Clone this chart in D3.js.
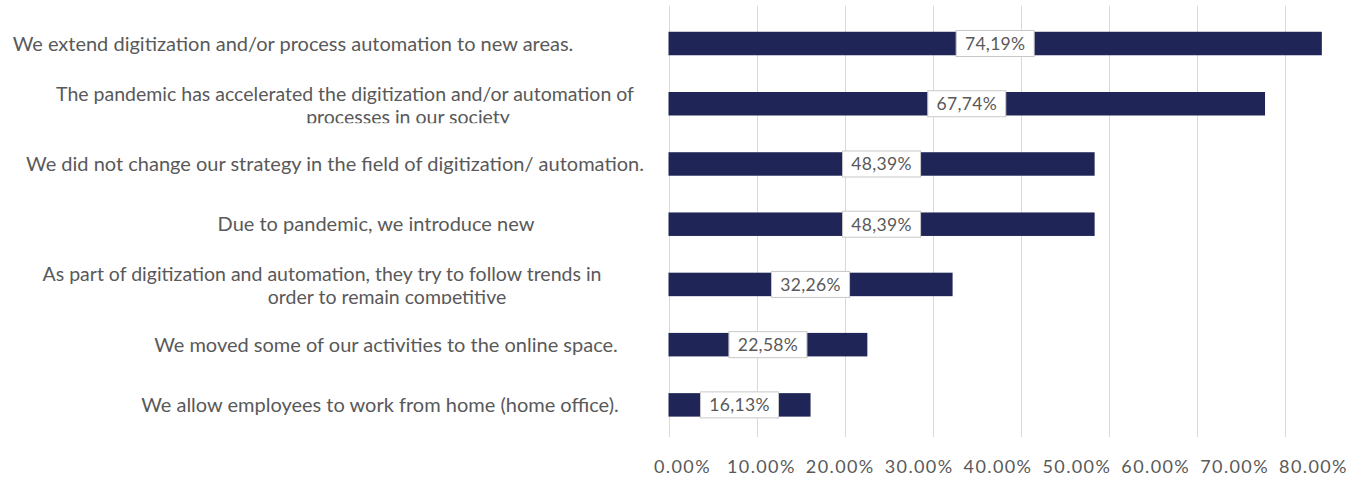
<!DOCTYPE html>
<html>
<head>
<meta charset="utf-8">
<script src="https://cdn.jsdelivr.net/npm/d3@7"></script>
<style>
  html, body { margin: 0; padding: 0; background: #fff; }
  svg { display: block; }
  text { font-family: Lato, "Open Sans", sans-serif; fill: #595959; }
</style>
</head>
<body>
<svg id="chart" width="1361" height="477"></svg>
<script>
// Survey answers, top to bottom
const categories = [
  "We extend digitization and/or process automation to new areas.",
  "The pandemic has accelerated the digitization and/or automation of processes in our society",
  "We did not change our strategy in the field of digitization/ automation.",
  "Due to pandemic, we introduce new",
  "As part of digitization and automation, they try to follow trends in order to remain competitive",
  "We moved some of our activities to the online space.",
  "We allow employees to work from home (home office)."
];
// Wrapped label lines for each answer
const labelLines = [
  ["We extend digitization and/or process automation to new areas."],
  ["The pandemic has accelerated the digitization and/or automation of", "processes in our society"],
  ["We did not change our strategy in the field of digitization/ automation."],
  ["Due to pandemic, we introduce new"],
  ["As part of digitization and automation, they try to follow trends in", "order to remain competitive"],
  ["We moved some of our activities to the online space."],
  ["We allow employees to work from home (home office)."]
];
// Share of respondents (%)
const values = [74.19, 67.74, 48.39, 48.39, 32.26, 22.58, 16.13];
// Axis tick values (%)
const tickValues = [0, 10, 20, 30, 40, 50, 60, 70, 80];

// Horizontal centre of each label line
const labelCenters = [[293], [345, 408], [335], [376], [322, 387], [386], [380]];

const svg = d3.select("#chart");

const x = d3.scaleLinear().domain([0, 80]).range([668.5, 1373]);
// Tick text sits on its own, narrower spacing
const xTickText = d3.scaleLinear().domain([0, 80]).range([682, 1313]);
const y = d3.scaleBand().domain(d3.range(categories.length)).range([13.4, 435]).paddingInner(0.61).paddingOuter(0.305);

const barColor = "#1f2657";
const gridColor = "#d9d9d9";

// Vertical gridlines
svg.append("g")
  .selectAll("line")
  .data(tickValues)
  .join("line")
  .attr("x1", d => Math.round(x(d)) + 0.5)
  .attr("x2", d => Math.round(x(d)) + 0.5)
  .attr("y1", 6)
  .attr("y2", 437)
  .attr("stroke", gridColor)
  .attr("stroke-width", 1);

// Bars
svg.append("g")
  .selectAll("rect")
  .data(values)
  .join("rect")
  .attr("x", x(0))
  .attr("y", (d, i) => y(i))
  .attr("width", d => x(d) - x(0))
  .attr("height", y.bandwidth())
  .attr("fill", barColor);

// Value labels in boxes at bar centres
const fmt = d => d.toFixed(2).replace(".", ",") + "%";
const lbl = svg.append("g")
  .selectAll("g")
  .data(values)
  .join("g")
  .attr("transform", (d, i) => `translate(${(x(0) + x(d)) / 2},${y(i) + y.bandwidth() / 2})`);
lbl.append("rect")
  .attr("x", -39).attr("y", -13)
  .attr("width", 78).attr("height", 26)
  .attr("fill", "#fff")
  .attr("stroke", "#c8c8c8");
lbl.append("text")
  .attr("text-anchor", "middle")
  .attr("dy", "0.36em")
  .style("font-size", "17.5px")
  .style("letter-spacing", "0.3px")
  .text(fmt);

// Category labels, clipped just below the second line
const defs = svg.append("defs");
labelLines.forEach((lines, i) => {
  const cy = y(i) + y.bandwidth() / 2;
  defs.append("clipPath").attr("id", "clip" + i)
    .append("rect").attr("x", 0).attr("y", cy - 30).attr("width", 660).attr("height", 49.5);
  const g = svg.append("g").attr("clip-path", `url(#clip${i})`);
  const n = lines.length;
  lines.forEach((t, k) => {
    g.append("text")
      .attr("x", labelCenters[i][k])
      .attr("y", cy + (n === 1 ? 0 : (k === 0 ? -10 : 13)))
      .attr("dy", "0.35em")
      .attr("text-anchor", "middle")
      .style("font-size", n === 1 ? "20px" : "19.5px")
      .text(t);
  });
});

// Bottom axis tick labels
const axis = d3.axisBottom(xTickText)
  .tickValues(tickValues)
  .tickFormat(d => d.toFixed(2) + "%")
  .tickSize(0);
const ax = svg.append("g").attr("transform", "translate(0,457)").call(axis);
ax.select(".domain").remove();
ax.selectAll("text")
  .style("font-size", "18px")
  .style("letter-spacing", "1.4px")
  .style("font-family", "Lato, sans-serif")
  .attr("fill", "#595959");
</script>
</body>
</html>
